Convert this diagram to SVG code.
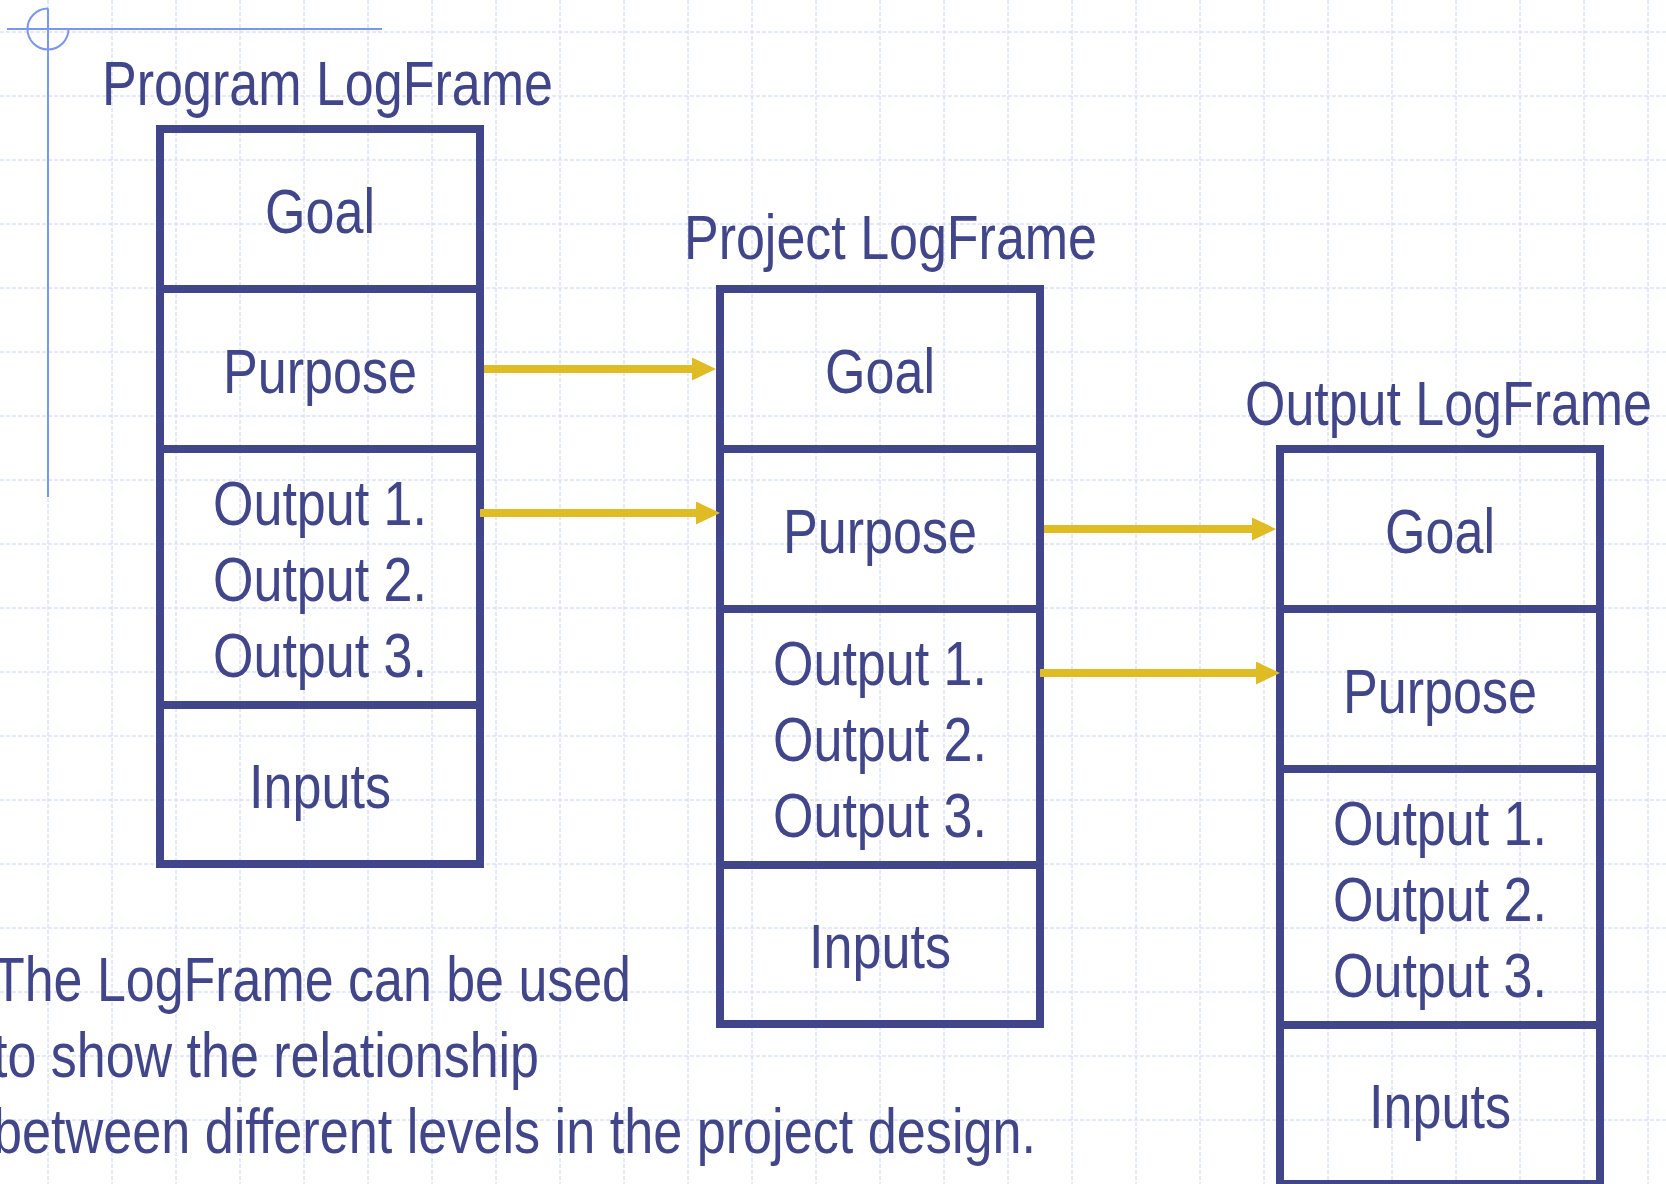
<svg xmlns="http://www.w3.org/2000/svg" width="1666" height="1184" viewBox="0 0 1666 1184">
<style>
.grid{stroke:#c8d3f7;stroke-width:1;stroke-dasharray:4 2;fill:none}
.deco{stroke:#7b96f1;stroke-width:2;fill:none}
.box{stroke:#41468a;stroke-width:8;fill:none}
.div{stroke:#41468a;stroke-width:8}
.lbl{font-family:"Liberation Sans Narrow","Arial Narrow","Liberation Sans",Arial,sans-serif;font-size:63px;fill:#41468a}
.c{text-anchor:middle}
.arr{stroke:#dfbb24;stroke-width:8;fill:none}
</style>
<defs>
<marker id="ah" markerUnits="userSpaceOnUse" markerWidth="24" markerHeight="23" viewBox="0 0 24 23" refX="0" refY="11.5" orient="auto">
<path d="M0,0 L24,11.5 L0,23 z" fill="#dfbb24"/>
</marker>
</defs>
<rect width="1666" height="1184" fill="#ffffff"/>
<g id="grid">
<path class="grid" d="M48,0V1184M112,0V1184M176,0V1184M240,0V1184M304,0V1184M368,0V1184M432,0V1184M496,0V1184M560,0V1184M624,0V1184M688,0V1184M752,0V1184M816,0V1184M880,0V1184M944,0V1184M1008,0V1184M1072,0V1184M1136,0V1184M1200,0V1184M1264,0V1184M1328,0V1184M1392,0V1184M1456,0V1184M1520,0V1184M1584,0V1184M1648,0V1184"/>
<path class="grid" d="M0,32H1666M0,96H1666M0,160H1666M0,224H1666M0,288H1666M0,352H1666M0,416H1666M0,480H1666M0,544H1666M0,608H1666M0,672H1666M0,736H1666M0,800H1666M0,864H1666M0,928H1666M0,992H1666M0,1056H1666M0,1120H1666"/>
</g>
<g id="decoration">
<line class="deco" x1="7" y1="29" x2="382" y2="29"/>
<line class="deco" x1="48" y1="8.5" x2="48" y2="497"/>
<path class="deco" d="M48,8.5 A20.5,20.5 0 1 0 68.5,29"/>
</g>
<g id="program-logframe">
<text class="lbl" x="102" y="105" textLength="451" lengthAdjust="spacingAndGlyphs">Program LogFrame</text>
<rect class="box" x="160" y="129" width="320" height="735"/>
<line class="div" x1="160" y1="289" x2="480" y2="289"/>
<line class="div" x1="160" y1="449" x2="480" y2="449"/>
<line class="div" x1="160" y1="705" x2="480" y2="705"/>
<text class="lbl c" x="320" y="233" textLength="110" lengthAdjust="spacingAndGlyphs">Goal</text>
<text class="lbl c" x="320" y="393" textLength="194" lengthAdjust="spacingAndGlyphs">Purpose</text>
<text class="lbl c" x="320" y="525" textLength="214" lengthAdjust="spacingAndGlyphs">Output 1.</text>
<text class="lbl c" x="320" y="601" textLength="214" lengthAdjust="spacingAndGlyphs">Output 2.</text>
<text class="lbl c" x="320" y="677" textLength="214" lengthAdjust="spacingAndGlyphs">Output 3.</text>
<text class="lbl c" x="320" y="808" textLength="142" lengthAdjust="spacingAndGlyphs">Inputs</text>
</g>
<g id="project-logframe">
<text class="lbl" x="684" y="259" textLength="413" lengthAdjust="spacingAndGlyphs">Project LogFrame</text>
<rect class="box" x="720" y="289" width="320" height="735"/>
<line class="div" x1="720" y1="449" x2="1040" y2="449"/>
<line class="div" x1="720" y1="609" x2="1040" y2="609"/>
<line class="div" x1="720" y1="865" x2="1040" y2="865"/>
<text class="lbl c" x="880" y="393" textLength="110" lengthAdjust="spacingAndGlyphs">Goal</text>
<text class="lbl c" x="880" y="553" textLength="194" lengthAdjust="spacingAndGlyphs">Purpose</text>
<text class="lbl c" x="880" y="685" textLength="214" lengthAdjust="spacingAndGlyphs">Output 1.</text>
<text class="lbl c" x="880" y="761" textLength="214" lengthAdjust="spacingAndGlyphs">Output 2.</text>
<text class="lbl c" x="880" y="837" textLength="214" lengthAdjust="spacingAndGlyphs">Output 3.</text>
<text class="lbl c" x="880" y="968" textLength="142" lengthAdjust="spacingAndGlyphs">Inputs</text>
</g>
<g id="output-logframe">
<text class="lbl" x="1245" y="425" textLength="407" lengthAdjust="spacingAndGlyphs">Output LogFrame</text>
<rect class="box" x="1280" y="449" width="320" height="735"/>
<line class="div" x1="1280" y1="609" x2="1600" y2="609"/>
<line class="div" x1="1280" y1="769" x2="1600" y2="769"/>
<line class="div" x1="1280" y1="1025" x2="1600" y2="1025"/>
<text class="lbl c" x="1440" y="553" textLength="110" lengthAdjust="spacingAndGlyphs">Goal</text>
<text class="lbl c" x="1440" y="713" textLength="194" lengthAdjust="spacingAndGlyphs">Purpose</text>
<text class="lbl c" x="1440" y="845" textLength="214" lengthAdjust="spacingAndGlyphs">Output 1.</text>
<text class="lbl c" x="1440" y="921" textLength="214" lengthAdjust="spacingAndGlyphs">Output 2.</text>
<text class="lbl c" x="1440" y="997" textLength="214" lengthAdjust="spacingAndGlyphs">Output 3.</text>
<text class="lbl c" x="1440" y="1128" textLength="142" lengthAdjust="spacingAndGlyphs">Inputs</text>
</g>
<g id="connectors">
<line class="arr" x1="484" y1="369" x2="692" y2="369" marker-end="url(#ah)"/>
<line class="arr" x1="480" y1="513" x2="696" y2="513" marker-end="url(#ah)"/>
<line class="arr" x1="1044" y1="529" x2="1252" y2="529" marker-end="url(#ah)"/>
<line class="arr" x1="1040" y1="673" x2="1256" y2="673" marker-end="url(#ah)"/>
</g>
<g id="caption">
<text class="lbl" x="-7" y="1001" textLength="638" lengthAdjust="spacingAndGlyphs">The LogFrame can be used</text>
<text class="lbl" x="-7" y="1077" textLength="546" lengthAdjust="spacingAndGlyphs">to show the relationship</text>
<text class="lbl" x="-7" y="1153" textLength="1043" lengthAdjust="spacingAndGlyphs">between different levels in the project design.</text>
</g>
</svg>
